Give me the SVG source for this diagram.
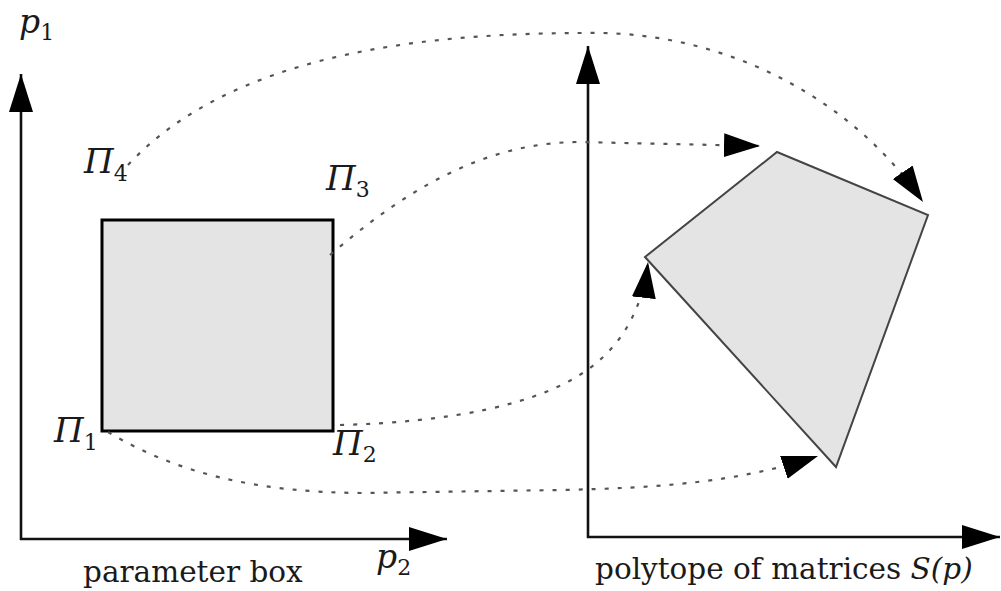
<svg xmlns="http://www.w3.org/2000/svg" width="1001" height="591" viewBox="0 0 1001 591">
<style>
text{font-family:'DejaVu Serif','Liberation Serif',serif;fill:#1a1a1a}
.it{font-style:italic}
.big{font-size:34px}
.sub{font-size:22px;font-style:normal}
.axis{stroke:#111;stroke-width:2.6;fill:none}
.conn{stroke:#555;stroke-width:2.2;fill:none;stroke-dasharray:4 9}
.shape{fill:#e4e4e4}
</style>
<defs>
<marker id="ah" markerUnits="userSpaceOnUse" markerWidth="42" markerHeight="26" refX="38" refY="12" orient="auto">
<path d="M0,0 L38,12 L0,24 z" fill="#000"/>
</marker>
<marker id="ahc" markerUnits="userSpaceOnUse" markerWidth="40" markerHeight="26" refX="36" refY="12" orient="auto">
<path d="M0,0 L36,12 L0,24 z" fill="#000"/>
</marker>
</defs>

<g id="left-axes">
<line class="axis" x1="21" y1="540" x2="21" y2="74" marker-end="url(#ah)"/>
<line class="axis" x1="20" y1="539" x2="447" y2="539" marker-end="url(#ah)"/>
<text class="it" x="19" y="33" font-size="33">p<tspan class="sub" dy="7">1</tspan></text>
<text class="it" x="376" y="568" font-size="33">p<tspan class="sub" dy="7">2</tspan></text>
<text x="83" y="582" font-size="29.5">parameter box</text>
</g>

<g id="parameter-box">
<rect class="shape" x="102" y="220" width="231" height="211" stroke="#000" stroke-width="3"/>
<text class="it big" x="54" y="442">Π<tspan class="sub" dy="8">1</tspan></text>
<text class="it big" x="333" y="455">Π<tspan class="sub" dy="7">2</tspan></text>
<text class="it big" x="326" y="190">Π<tspan class="sub" dy="7">3</tspan></text>
<text class="it big" x="84" y="173">Π<tspan class="sub" dy="8">4</tspan></text>
</g>

<g id="right-axes">
<line class="axis" x1="588" y1="538" x2="588" y2="46" marker-end="url(#ah)"/>
<line class="axis" x1="587" y1="537" x2="1000" y2="537" marker-end="url(#ah)"/>
<text x="595" y="579" font-size="29.5">polytope of matrices <tspan class="it">S(p)</tspan></text>
</g>

<g id="polytope">
<polygon class="shape" points="777,152 928,215 836,467 645,257" stroke="#444" stroke-width="2"/>
</g>

<g id="connectors">
<path class="conn" d="M128,165 C230,55 420,33 585,33 C720,30 850,95 923,202" marker-end="url(#ahc)"/>
<path class="conn" d="M330,255 C400,195 480,142 580,142 L760,146" marker-end="url(#ahc)"/>
<path class="conn" d="M340,425 C450,422 540,405 590,368 C625,342 643,305 648,262" marker-end="url(#ahc)"/>
<path class="conn" d="M108,432 C180,475 260,492 360,493 L560,490 C660,488 740,482 818,456" marker-end="url(#ahc)"/>
</g>
</svg>
